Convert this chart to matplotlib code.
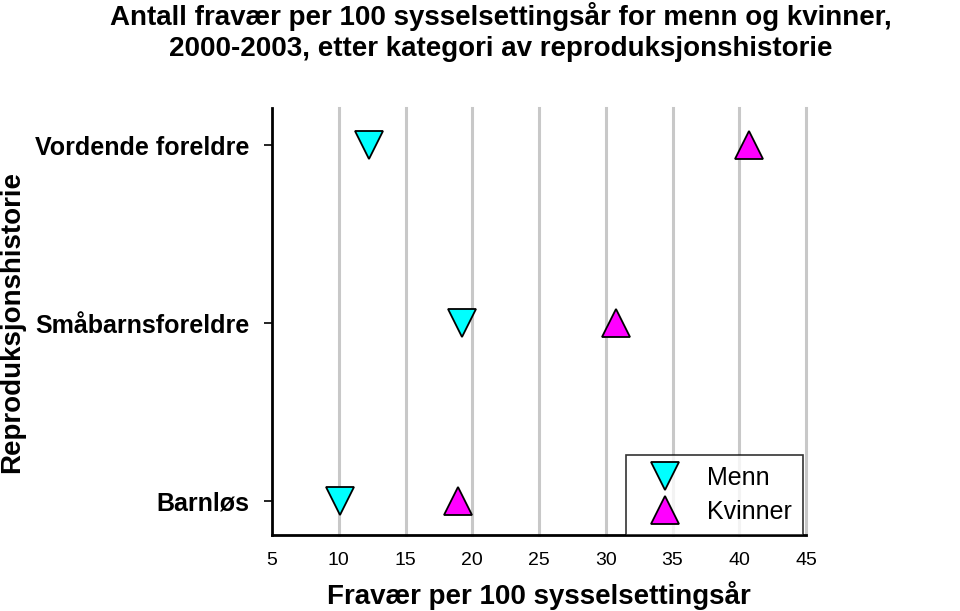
import numpy as np
import matplotlib
matplotlib.use('Agg')
import matplotlib.pyplot as plt

plt.rcParams['font.family'] = ['Liberation Sans', 'DejaVu Sans']

categories = ['Barnløs', 'Småbarnsforeldre', 'Vordende foreldre']
menn = [10.1, 19.2, 12.3]
kvinner = [18.9, 30.8, 40.7]
xticks = [5, 10, 15, 20, 25, 30, 35, 40, 45]

fig = plt.figure(figsize=(9.6, 6.11), dpi=100)
ax = fig.add_axes([272/960, 1-535/611, 534/960, 427/611])

ypos = np.arange(len(categories))
for x in xticks[1:]:
    ax.axvline(x, color='#c8c8c8', lw=2.2, zorder=0, clip_on=False)

ax.plot(menn, ypos, 'v', ms=20, mfc='#00ffff', mec='black', mew=1.3,
        ls='none', label='Menn', zorder=3)
ax.plot(kvinner, ypos, '^', ms=20, mfc='#ff00ff', mec='black', mew=1.3,
        ls='none', label='Kvinner', zorder=3)

ax.set_xlim(5, 45)
ax.set_ylim(-0.19, 2.21)
ax.set_xticks(xticks)
ax.set_xticklabels([str(v) for v in xticks], fontsize=14)
ax.set_yticks(ypos)
ax.set_yticklabels(categories, fontsize=18, fontweight='bold')
ax.tick_params(axis='x', length=0, pad=12)
ax.tick_params(axis='y', length=6, width=1.2, pad=10)

for s in ['top', 'right']:
    ax.spines[s].set_visible(False)
for s in ['left', 'bottom']:
    ax.spines[s].set_linewidth(2)

ax.set_xlabel('Fravær per 100 sysselsettingsår', fontsize=20, fontweight='bold', labelpad=9)
fig.text(12/960, 1-322/611, 'Reproduksjonshistorie', rotation=90, fontsize=20,
         fontweight='bold', ha='center', va='center')

leg = ax.legend(loc='lower right', bbox_to_anchor=(0.995, 0.0), borderaxespad=0,
                fontsize=18, frameon=True, fancybox=False, edgecolor='black',
                labelspacing=0.4, handletextpad=0.6, borderpad=0.45, markerscale=1.0,
                handlelength=2.2)
leg.get_frame().set_linewidth(1.2)

fig.text(501/960, 1-2/611,
         'Antall fravær per 100 sysselsettingsår for menn og kvinner,\n2000-2003, etter kategori av reproduksjonshistorie',
         fontsize=20, fontweight='bold', ha='center', va='top', linespacing=1.25)

plt.savefig('out.png', dpi=100)
